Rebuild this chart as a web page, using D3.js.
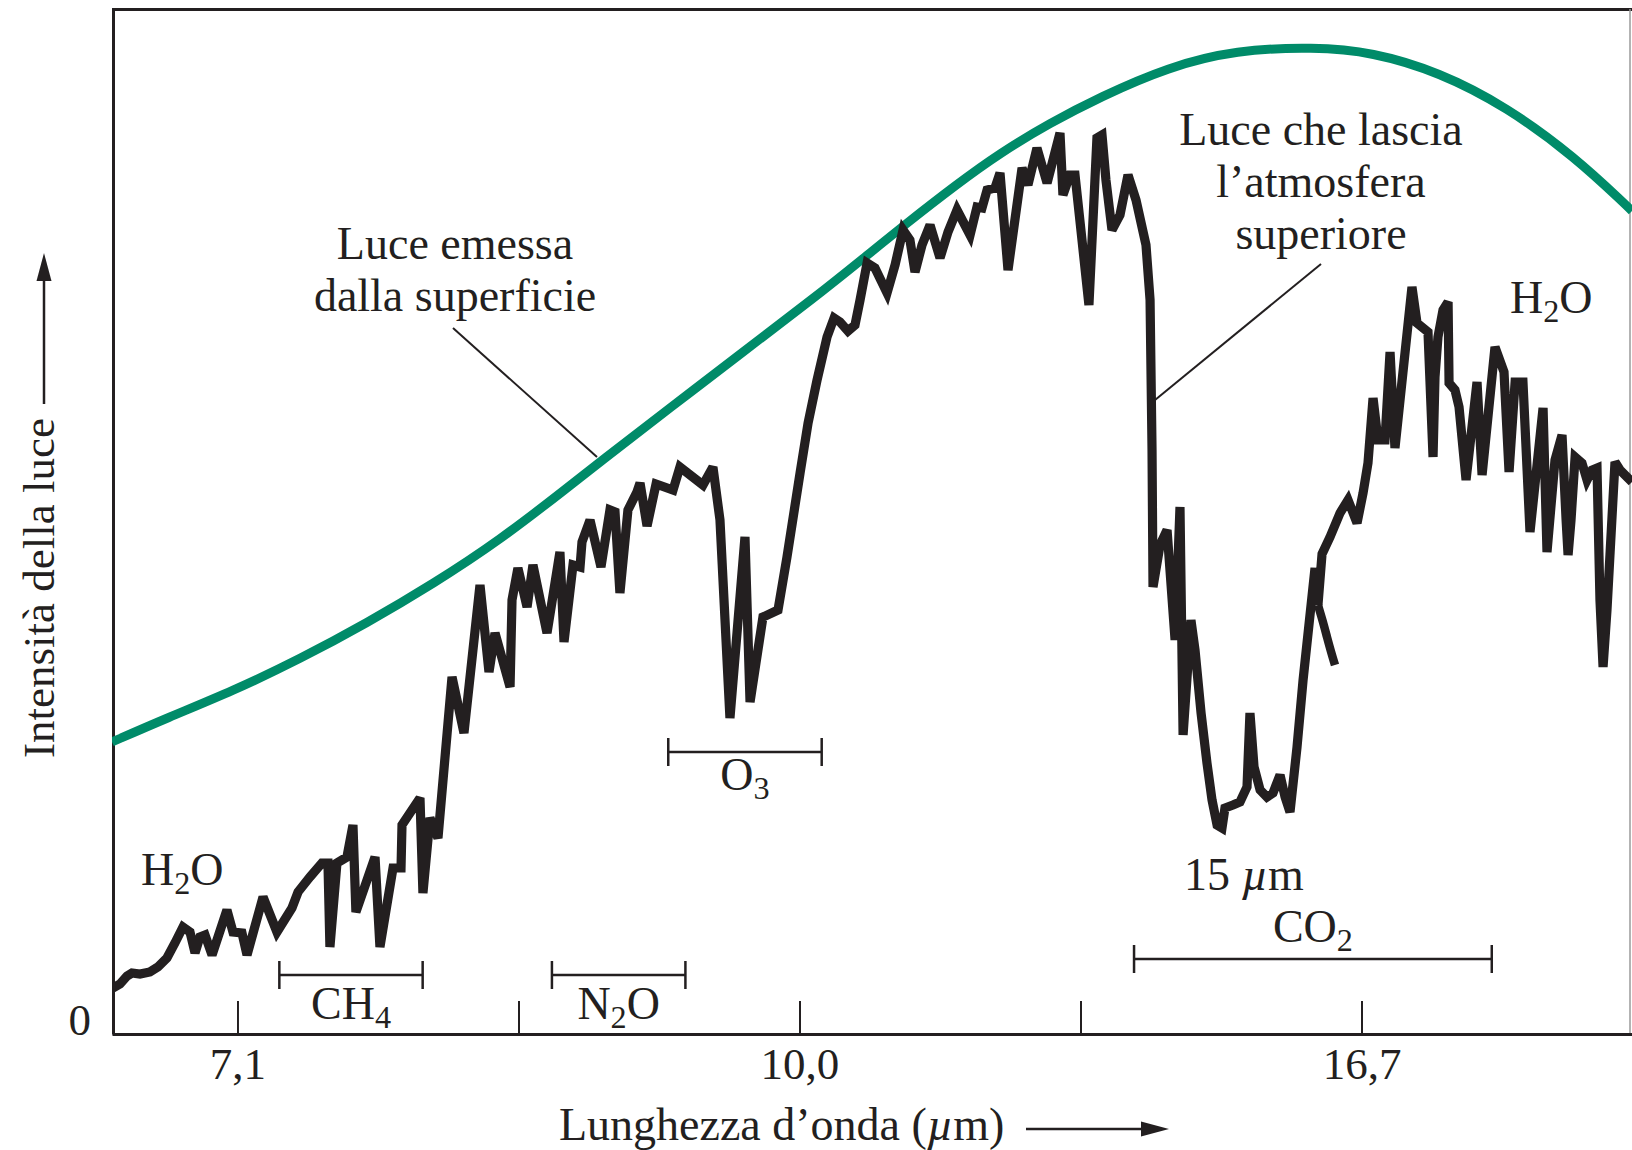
<!DOCTYPE html>
<html>
<head>
<meta charset="utf-8">
<script src="https://cdn.jsdelivr.net/npm/d3@7"></script>
<style>
  body { margin: 0; background: #fff; }
  text { font-family: "Liberation Serif", serif; fill: #231f20; }
</style>
</head>
<body>
<div id="chart"></div>
<script>
// x: wavenumber (cm^-1, decreasing to the right), y: intensity in arbitrary units
const wnLeft = 1489.3, wnRight = 407.5;
const tickWn = [1400, 1200, 1000, 800, 600];
const tickLabels = ["7,1", "", "10,0", "", "16,7"];

// light emitted by the surface (smooth curve)
const surface = [
  [1489.3,292],[1450.2,316],[1403.2,343],[1355.5,375],[1307.8,411],[1260.8,450],[1213.1,494],
  [1165.5,546],[1142.0,572],[1091.4,627],[1040.2,682],[989.7,736],[953.4,777],[926.3,808],
  [887.9,850],[857.3,881],[821.7,911],[786.1,937],[737.7,967],[689.3,984],[633.8,987],
  [592.5,982],[544.9,962],[496.5,927],[448.1,877],[411.8,829],[407.5,823]
];

// light leaving the upper atmosphere
const spectrum = [
  [1488.6,46],[1483.6,50],[1478.6,58],[1475.1,61],[1469.4,60],[1462.3,62],[1456.6,67],[1450.2,76],[1444.5,91],[1438.8,107],
  [1433.8,102],[1430.2,81],[1426.7,97],[1423.1,99],[1418.1,79],[1407.5,124],[1403.2,102],[1396.8,101],[1393.2,79],[1381.8,137],
  [1371.9,102],[1361.2,126],[1356.9,142],[1348.4,157],[1339.9,171],[1335.6,171],[1334.2,87],[1329.2,171],[1322.1,177],[1317.8,209],
  [1315.7,122],[1302.1,177],[1298.6,87],[1289.3,166],[1283.6,166],[1282.9,209],[1270.1,236],[1268.0,141],[1263.0,216],[1257.3,196],
  [1247.3,357],[1238.8,301],[1227.4,449],[1221.0,362],[1216.7,401],[1206.0,347],[1204.6,434],[1200.4,466],[1193.9,427],[1189.7,469],
  [1179.7,401],[1170.5,482],[1167.6,392],[1161.2,469],[1156.2,467],[1154.8,492],[1149.1,514],[1141.3,467],[1134.9,524],[1131.3,522],
  [1127.8,441],[1122.1,524],[1115.7,542],[1113.5,551],[1108.5,508],[1102.1,550],[1090.0,544],[1085.1,567],[1068.7,549],[1061.6,567],
  [1056.6,514],[1049.5,316],[1038.8,497],[1035.2,332],[1026.0,417],[1015.3,424],[1008.9,477],[999.6,561],[993.9,611],[987.5,654],
  [980.4,697],[975.4,716],[971.2,712],[965.5,703],[960.5,709],[956.9,734],[951.9,771],[946.3,766],[937.7,741],[932.0,769],
  [926.3,804],[921.4,794],[917.8,762],[912.8,789],[907.1,809],[900.0,776],[894.3,802],[887.9,824],[878.6,799],[873.7,827],
  [870.1,826],[866.5,844],[860.9,846],[857.3,861],[851.6,764],[841.6,866],[837.4,849],[831.0,886],[823.8,851],[814.6,901],
  [812.5,839],[807.5,859],[803.9,859],[794.0,729],[788.3,896],[784.7,899],[781.9,854],[777.6,804],[771.9,819],[766.2,859],
  [760.5,834],[753.4,789],[750.5,734],[749.1,584],[748.4,447],[743.4,489],[738.4,504],[732.7,394],[729.2,527],[727.0,299],
  [721.4,414],[718.5,384],[714.2,321],[710.0,271],[706.4,234],[702.8,209],[699.3,206],[697.2,226],[691.5,229],[686.5,232],
  [681.5,247],[679.4,321],[676.5,267],[672.2,244],[667.3,237],[663.0,241],[658.0,259],[654.4,237],[650.9,222],[645.9,287],
  [641.6,354],[633.1,466],[631.0,429],[628.1,480],[622.4,497],[615.3,521],[609.6,534],[603.2,511],[598.9,541],[595.4,571],
  [591.8,636],[588.3,594],[583.3,594],[579.7,682],[576.2,586],[564.1,747],[560.5,711],[552.7,702],[549.1,577],[547.7,657],
  [545.6,697],[542.0,724],[538.4,732],[537.7,651],[533.5,644],[530.6,627],[525.6,554],[517.8,652],[514.2,559],[505.0,687],
  [498.6,662],[495.0,562],[490.7,652],[485.1,652],[480.1,502],[470.8,626],[468.0,482],[462.3,574],[457.3,599],[454.4,514],
  [453.0,479],[450.9,514],[448.0,577],[443.1,571],[439.5,554],[435.9,564],[432.4,566],[430.3,434],[428.1,367],[425.3,424],
  [419.6,572],[416.0,564],[407.5,552]
];

// short loose end of the trace after the CO2 band
const spectrumTail = [[631.0,429],[627.4,412],[624.6,397],[621.7,382],[618.9,369]];

// absorption bands
const bandNames = ["CH4", "N2O", "O3", "CO2"];
const bandFrom  = [1370.2, 1176.2, 1093.4, 761.9];
const bandTo    = [1268.2, 1081.2, 984.2, 507.3];
const bandLevel = [59, 59, 282, 75];

const W = 1632, H = 1150;
const ink = "#231f20";
const green = "#008b69";

function chem(sel, formula, size) {
    // digits become subscripts
    const parts = formula.match(/\d+|\D+/g);
    let down = false;
    parts.forEach(function(p) {
        const t = sel.append("tspan").text(p);
        if (/\d/.test(p)) {
            t.attr("font-size", size * 0.7).attr("dy", 9);
            down = true;
        } else if (down) {
            t.attr("dy", -9);
            down = false;
        }
    });
}

function main() {
    const svg = d3.select("#chart").append("svg")
        .attr("width", W).attr("height", H);

    const x = d3.scaleLinear().domain([wnLeft, wnRight]).range([112, 1632]);
    const y = d3.scaleLinear().domain([0, 1025]).range([1034, 9]);

    svg.append("clipPath").attr("id", "plot")
        .append("rect").attr("x", 112).attr("y", 9).attr("width", 1520).attr("height", 1025);

    // frame
    svg.append("line").attr("x1", 112).attr("x2", 1632).attr("y1", 9.5).attr("y2", 9.5)
        .attr("stroke", ink).attr("stroke-width", 3);
    svg.append("line").attr("x1", 1630).attr("x2", 1630).attr("y1", 9).attr("y2", 1034)
        .attr("stroke", "#9a9a9a").attr("stroke-width", 1.5);

    // x axis with inward ticks
    const xAxis = svg.append("g")
        .attr("transform", "translate(0,1034)")
        .call(d3.axisBottom(x).tickValues(tickWn).tickSize(-33).tickSizeOuter(0)
            .tickFormat(function(d, i) { return tickLabels[i]; }));
    xAxis.select(".domain").attr("stroke", ink).attr("stroke-width", 3);
    xAxis.selectAll(".tick line").attr("stroke", ink).attr("stroke-width", 2);
    xAxis.selectAll(".tick text")
        .attr("y", 45).attr("dy", null)
        .style("font-size", "45px").attr("fill", ink);

    // y axis: only the zero
    const yAxis = svg.append("g")
        .attr("transform", "translate(113,0)")
        .call(d3.axisLeft(y).tickValues([0]).tickSize(0).tickSizeOuter(0).tickPadding(22));
    yAxis.select(".domain").attr("stroke", ink).attr("stroke-width", 3);
    yAxis.selectAll(".tick text").attr("dy", "0")
        .style("font-size", "45px").attr("fill", ink);

    const plot = svg.append("g").attr("clip-path", "url(#plot)");

    const smooth = d3.line()
        .x(function(d) { return x(d[0]); })
        .y(function(d) { return y(d[1]); })
        .curve(d3.curveBasis);
    const jagged = d3.line()
        .x(function(d) { return x(d[0]); })
        .y(function(d) { return y(d[1]); });

    plot.append("path").datum(surface)
        .attr("d", smooth)
        .attr("fill", "none").attr("stroke", green).attr("stroke-width", 9);

    plot.append("path").datum(spectrum)
        .attr("d", jagged)
        .attr("fill", "none").attr("stroke", ink).attr("stroke-width", 9.2)
        .attr("stroke-linejoin", "miter").attr("stroke-miterlimit", 3);

    plot.append("path").datum(spectrumTail)
        .attr("d", smooth)
        .attr("fill", "none").attr("stroke", ink).attr("stroke-width", 8.5);

    // band brackets
    const labelOffset = [44, 44, 38, -17];
    bandNames.forEach(function(name, i) {
        const x0 = x(bandFrom[i]), x1 = x(bandTo[i]), yy = y(bandLevel[i]);
        const g = svg.append("g").attr("stroke", ink).attr("stroke-width", 2.5);
        g.append("line").attr("x1", x0).attr("x2", x1).attr("y1", yy).attr("y2", yy);
        g.append("line").attr("x1", x0).attr("x2", x0).attr("y1", yy - 14).attr("y2", yy + 14);
        g.append("line").attr("x1", x1).attr("x2", x1).attr("y1", yy - 14).attr("y2", yy + 14);
        const t = svg.append("text")
            .attr("x", (x0 + x1) / 2).attr("y", yy + labelOffset[i])
            .attr("text-anchor", "middle").style("font-size", "46px");
        chem(t, name, 46);
    });

    // H2O labels
    const h2oLeft = svg.append("text").attr("x", 141).attr("y", 885).style("font-size", "46px");
    chem(h2oLeft, "H2O", 46);
    const h2oRight = svg.append("text").attr("x", 1510).attr("y", 313).style("font-size", "46px");
    chem(h2oRight, "H2O", 46);

    // 15 um
    const t15 = svg.append("text").attr("x", 1244).attr("y", 890)
        .attr("text-anchor", "middle").style("font-size", "46px");
    t15.append("tspan").text("15 ");
    t15.append("tspan").attr("font-style", "italic").text("\u00b5");
    t15.append("tspan").text("m");

    // annotations
    const note1 = svg.append("text").attr("text-anchor", "middle").style("font-size", "46px");
    note1.append("tspan").attr("x", 455).attr("y", 259).text("Luce emessa");
    note1.append("tspan").attr("x", 455).attr("y", 311).text("dalla superficie");
    svg.append("line").attr("x1", 453).attr("y1", 328).attr("x2", 597).attr("y2", 457)
        .attr("stroke", ink).attr("stroke-width", 2);

    const note2 = svg.append("text").attr("text-anchor", "middle").style("font-size", "46px");
    note2.append("tspan").attr("x", 1321).attr("y", 145).text("Luce che lascia");
    note2.append("tspan").attr("x", 1321).attr("y", 197).text("l\u2019atmosfera");
    note2.append("tspan").attr("x", 1321).attr("y", 249).text("superiore");
    svg.append("line").attr("x1", 1321).attr("y1", 264).attr("x2", 1155).attr("y2", 400)
        .attr("stroke", ink).attr("stroke-width", 2);

    // x axis title with arrow
    const xt = svg.append("text").attr("x", 559).attr("y", 1140).style("font-size", "46px");
    xt.append("tspan").text("Lunghezza d\u2019onda (");
    xt.append("tspan").attr("font-style", "italic").text("\u00b5");
    xt.append("tspan").text("m)");
    svg.append("line").attr("x1", 1026).attr("x2", 1146).attr("y1", 1129).attr("y2", 1129)
        .attr("stroke", ink).attr("stroke-width", 2.5);
    svg.append("path").attr("d", "M1141,1121.5L1169,1129L1141,1136.5Z").attr("fill", ink);

    // y axis title with arrow
    svg.append("text")
        .attr("transform", "translate(54,758) rotate(-90)")
        .style("font-size", "45px")
        .text("Intensit\u00e0 della luce");
    svg.append("line").attr("x1", 44).attr("x2", 44).attr("y1", 404).attr("y2", 278)
        .attr("stroke", ink).attr("stroke-width", 2.5);
    svg.append("path").attr("d", "M36.5,281L44,253L51.5,281Z").attr("fill", ink);
}

main();
</script>
</body>
</html>
